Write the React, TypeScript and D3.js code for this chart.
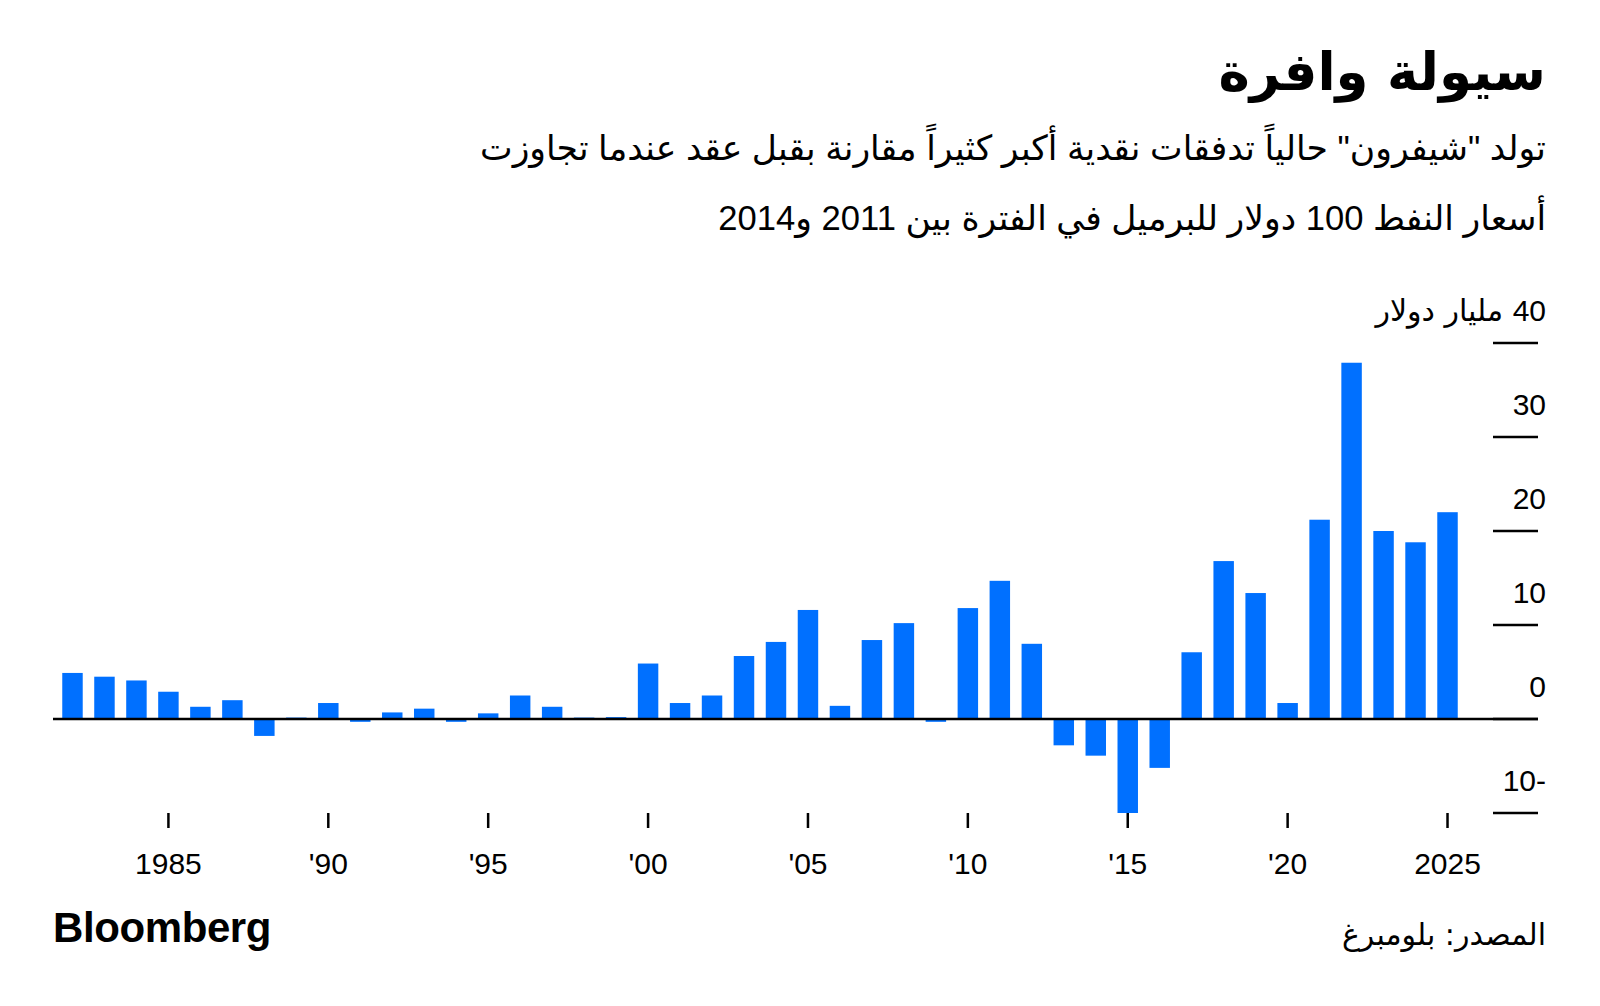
import React from 'react';
import * as d3 from 'd3';

const years = [
  1982, 1983, 1984, 1985, 1986, 1987, 1988, 1989, 1990, 1991,
  1992, 1993, 1994, 1995, 1996, 1997, 1998, 1999, 2000, 2001,
  2002, 2003, 2004, 2005, 2006, 2007, 2008, 2009, 2010, 2011,
  2012, 2013, 2014, 2015, 2016, 2017, 2018, 2019, 2020, 2021,
  2022, 2023, 2024, 2025,
];
const values = [
  4.9, 4.5, 4.1, 2.9, 1.3, 2.0, -1.8, 0.15, 1.7, -0.3,
  0.7, 1.1, -0.3, 0.6, 2.5, 1.3, 0.15, 0.2, 5.9, 1.7,
  2.5, 6.7, 8.2, 11.6, 1.4, 8.4, 10.2, -0.3, 11.8, 14.7,
  8.0, -2.8, -3.9, -10.0, -5.2, 7.1, 16.8, 13.4, 1.7, 21.2,
  37.9, 20.0, 18.8, 22.0,
];
const yTicks = [-10, 0, 10, 20, 30, 40];
const xTickYears = [1985, 1990, 1995, 2000, 2005, 2010, 2015, 2020, 2025];
const xTickLabels = ['1985', "'90", "'95", "'00", "'05", "'10", "'15", "'20", '2025'];

const title = 'سيولة وافرة';
const subtitle1 = 'تولد "شيفرون" حالياً تدفقات نقدية أكبر كثيراً مقارنة بقبل عقد عندما تجاوزت';
const subtitle2 = 'أسعار النفط 100 دولار للبرميل في الفترة بين 2011 و2014';
const unitLabel = 'مليار دولار';
const source = 'المصدر: بلومبرغ';

const BLUE = '#0070FF';
const ARABIC = '"DejaVu Sans", sans-serif';
const MIXED = '"Liberation Sans", "DejaVu Sans", sans-serif';
const LATIN = '"Liberation Sans", Arial, sans-serif';

export default function App() {
  const x = d3.scaleBand<number>().domain(years).range([56.5, 1463.5]).paddingInner(0.36).paddingOuter(0.18);
  const y = d3.scaleLinear().domain([-10, 40]).range([813, 343]);
  const y0 = y(0);
  const right = 1546;

  return (
    <svg width={1600} height={1006} style={{ position: 'absolute', left: 0, top: 0, background: '#fff' }}>
      <rect width={1600} height={1006} fill="#fff" />
      <text x={right} y={90} direction="rtl" textAnchor="start" fontFamily={ARABIC} fontWeight="bold" fontSize={53} fill="#000">{title}</text>
      <text x={right} y={160} direction="rtl" textAnchor="start" fontFamily={MIXED} fontSize={34.6} fill="#000">{subtitle1}</text>
      <text x={right} y={230} direction="rtl" textAnchor="start" fontFamily={MIXED} fontSize={34.6} fill="#000">{subtitle2}</text>

      {values.map((v, i) => (
        <rect key={years[i]} x={x(years[i])} width={x.bandwidth()} y={Math.min(y(v), y0)} height={Math.abs(y(v) - y0)} fill={BLUE} />
      ))}

      <line x1={53} x2={1538} y1={y0} y2={y0} stroke="#000" strokeWidth={2.5} />

      {yTicks.map((t) => (
        <g key={t}>
          <line x1={1493} x2={1538} y1={y(t)} y2={y(t)} stroke="#000" strokeWidth={2.5} />
          {t === 40 ? (
            <text x={right} y={y(t) - 22} direction="rtl" textAnchor="start" fontSize={30} fill="#000">
              <tspan fontFamily={LATIN}>40</tspan>
              <tspan fontFamily={ARABIC}>{' ' + unitLabel}</tspan>
            </text>
          ) : (
            <text x={right} y={y(t) - 22} textAnchor="end" fontFamily={LATIN} fontSize={30} fill="#000">
              {t < 0 ? `${Math.abs(t)}-` : `${t}`}
            </text>
          )}
        </g>
      ))}

      {xTickYears.map((yr, i) => {
        const cx = (x(yr) as number) + x.bandwidth() / 2;
        return (
          <g key={yr}>
            <line x1={cx} x2={cx} y1={813} y2={828} stroke="#000" strokeWidth={2.5} />
            <text x={cx} y={874} textAnchor="middle" fontFamily={LATIN} fontSize={30} fill="#000">{xTickLabels[i]}</text>
          </g>
        );
      })}

      <text x={53} y={942} fontFamily={LATIN} fontWeight="bold" fontSize={42} fill="#000" letterSpacing={-0.4}>Bloomberg</text>
      <text x={right} y={945} direction="rtl" textAnchor="start" fontFamily={ARABIC} fontSize={30} fill="#000">{source}</text>
    </svg>
  );
}
